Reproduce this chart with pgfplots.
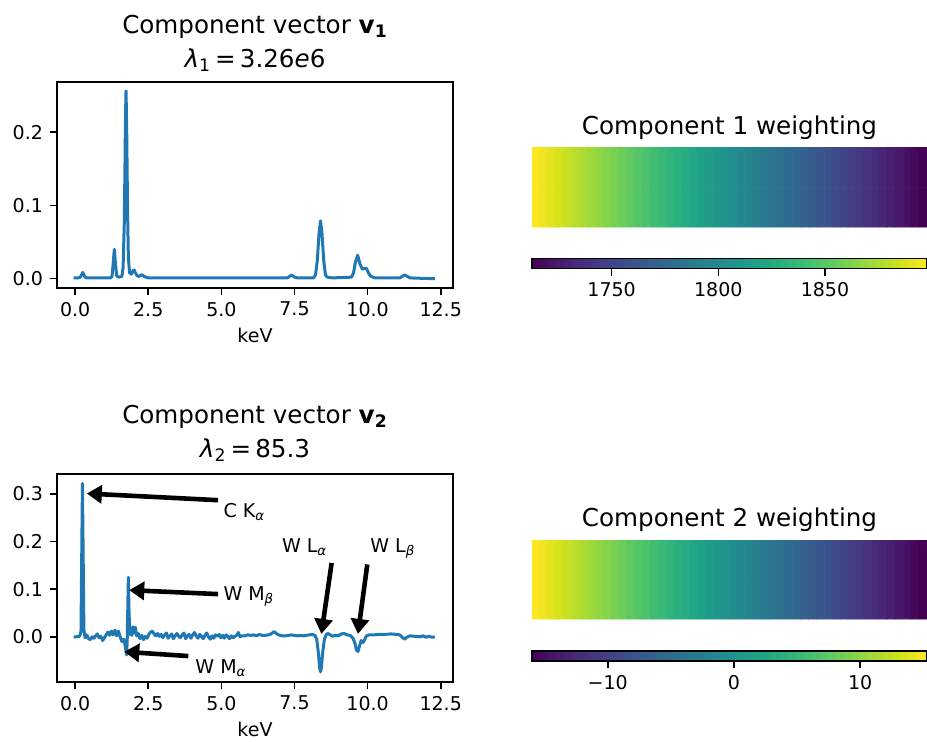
\documentclass[border=0pt]{standalone}
\usepackage{pgfplots}
\pgfplotsset{compat=1.18}
\usepackage{fontspec}
\setmainfont{DejaVu Sans}
\usetikzlibrary{arrows.meta}
\definecolor{mplblue}{HTML}{1F77B4}
\newcommand\tickfont{\fontsize{9.5bp}{11bp}\selectfont}
\newcommand\titlefont{\fontsize{12.3bp}{14bp}\selectfont}
\tikzset{arr/.style={-{Triangle[width=9bp,length=7.5bp]}, line width=2.3bp, black}}
\pgfplotsset{
  spec/.style={
    scale only axis, width=198bp,
    xmin=-0.62, xmax=12.92,
    xtick={0,2.5,5,7.5,10,12.5},
    xticklabels={0.0,2.5,5.0,7.5,10.0,12.5},
    tick align=outside, major tick length=3.5bp,
    tick style={black, line width=0.8bp},
    axis line style={black, line width=0.8bp},
    xtick pos=left, ytick pos=left,
    tick label style={font=\tickfont, black},
    xlabel={keV},
    xlabel style={font=\tickfont, at={(axis description cs:0.5,0)}, anchor=base, yshift=-27.3bp},
    clip mode=individual,
  },
  spline/.style={color=mplblue, line width=1.5bp, line join=round},
  imgax/.style={scale only axis, width=197.5bp, hide axis, xmin=-0.5, xmax=49.5, ymin=-0.5, ymax=1.5, colormap/viridis, enlargelimits=false},
  cbax/.style={scale only axis, width=197.5bp, height=5bp, ymin=0, ymax=1, ytick=\empty, colormap/viridis,
    tick align=outside, major tick length=3.5bp, xtick pos=left,
    tick style={black, line width=0.8bp}, axis line style={black, line width=0.8bp},
    tick label style={font=\tickfont, black}, axis on top, enlargelimits=false},
}
\begin{document}
\begin{tikzpicture}
\path[use as bounding box] (0,0) rectangle (463.5bp,-371bp);

% ---------- top-left spectrum ----------
\begin{axis}[spec, at={(28.5bp,-41bp)}, anchor=north west, height=103bp,
  ymin=-0.0128, ymax=0.2686, ytick={0,0.1,0.2}, yticklabels={0.0,0.1,0.2}]
\addplot[spline] coordinates {
(-0.05,0.001) (0.10,0.001) (0.18,0.002) (0.22,0.005) (0.26,0.0085) (0.30,0.005) (0.34,0.002) (0.40,0.001)
(0.80,0.001) (1.20,0.001) (1.26,0.003) (1.30,0.020) (1.34,0.040) (1.38,0.020) (1.42,0.004) (1.48,0.002)
(1.60,0.003) (1.64,0.015) (1.68,0.075) (1.70,0.140) (1.72,0.215) (1.74,0.2566) (1.76,0.215) (1.78,0.140)
(1.80,0.075) (1.82,0.030) (1.86,0.008) (1.92,0.006) (1.98,0.011) (2.02,0.0117) (2.06,0.008) (2.12,0.004)
(2.18,0.003) (2.26,0.005) (2.30,0.005) (2.36,0.003) (2.50,0.001) (4.00,0.001) (6.00,0.001) (7.25,0.001)
(7.30,0.002) (7.40,0.005) (7.50,0.002) (7.60,0.001) (8.15,0.001) (8.22,0.005) (8.28,0.025) (8.34,0.062)
(8.39,0.079) (8.44,0.062) (8.50,0.025) (8.56,0.005) (8.62,0.002) (8.80,0.001) (9.45,0.002) (9.52,0.008)
(9.58,0.022) (9.66,0.032) (9.74,0.020) (9.82,0.013) (9.90,0.014) (9.96,0.014) (10.04,0.007) (10.12,0.003)
(10.25,0.001) (11.10,0.001) (11.18,0.003) (11.27,0.005) (11.36,0.003) (11.45,0.001) (11.80,0.0005) (12.30,0.0)
};
\end{axis}

% ---------- bottom-left spectrum ----------
\begin{axis}[spec, at={(28.5bp,-237bp)}, anchor=north west, height=104bp,
  ymin=-0.095, ymax=0.342, ytick={0,0.1,0.2,0.3}, yticklabels={0.0,0.1,0.2,0.3}]
\addplot[spline] coordinates {
(-0.05,0.000) (0.05,0.000) (0.15,0.001) (0.20,0.010) (0.23,0.200) (0.25,0.322) (0.27,0.200) (0.30,0.015)
(0.34,-0.002) (0.40,0.004) (0.46,-0.004) (0.52,-0.006) (0.58,0.000) (0.64,-0.003) (0.70,0.002) (0.76,0.006)
(0.82,-0.002) (0.88,0.001) (0.94,-0.008) (1.00,-0.002) (1.06,0.004) (1.12,0.010) (1.18,0.003) (1.24,0.012)
(1.30,0.004) (1.36,0.014) (1.42,0.002) (1.48,0.012) (1.54,0.000) (1.60,-0.010) (1.66,-0.005) (1.70,-0.015)
(1.74,-0.030) (1.76,-0.038) (1.78,-0.010) (1.80,0.060) (1.82,0.125) (1.84,0.060) (1.87,0.005) (1.90,0.012)
(1.94,0.003) (1.98,0.021) (2.02,0.008) (2.06,0.020) (2.10,0.002) (2.16,0.007) (2.22,-0.004) (2.28,0.003)
(2.34,-0.006) (2.40,0.001) (2.46,-0.003) (2.52,0.005) (2.58,0.010) (2.64,0.012) (2.70,0.006) (2.76,0.002)
(2.82,0.007) (2.88,0.001) (2.94,0.005) (3.00,-0.002) (3.06,0.004) (3.12,0.008) (3.18,-0.003) (3.24,0.002)
(3.30,0.006) (3.36,-0.004) (3.42,0.002) (3.48,0.007) (3.54,0.001) (3.60,-0.002) (3.66,0.004) (3.72,0.008)
(3.78,-0.004) (3.84,0.002) (3.90,0.005) (3.96,-0.003) (4.02,0.004) (4.08,0.009) (4.14,0.002) (4.20,-0.003)
(4.26,0.005) (4.32,0.001) (4.38,-0.004) (4.44,0.003) (4.50,0.008) (4.56,0.000) (4.62,-0.005) (4.68,0.002)
(4.74,-0.003) (4.80,0.004) (4.86,0.001) (4.92,0.005) (4.98,-0.002) (5.04,0.003) (5.10,-0.003) (5.16,0.004)
(5.22,0.001) (5.28,-0.004) (5.34,0.002) (5.40,-0.002) (5.46,0.001) (5.52,0.003) (5.58,0.009) (5.64,0.000)
(5.70,0.002) (5.80,0.002) (5.90,0.004) (6.00,0.003) (6.10,0.004) (6.20,0.002) (6.30,0.005) (6.40,0.003)
(6.50,0.003) (6.60,0.004) (6.70,0.006) (6.80,0.011) (6.90,0.006) (7.00,0.003) (7.10,0.002) (7.20,0.002)
(7.30,0.003) (7.40,0.004) (7.50,0.003) (7.60,0.002) (7.70,0.003) (7.80,0.002) (7.90,0.003) (8.00,0.004)
(8.10,0.005) (8.20,0.003) (8.26,-0.005) (8.32,-0.035) (8.36,-0.065) (8.39,-0.0735) (8.42,-0.065) (8.46,-0.035)
(8.52,-0.006) (8.58,0.004) (8.64,0.007) (8.70,0.005) (8.80,0.001) (8.90,0.003) (9.00,0.002) (9.10,0.006)
(9.20,0.007) (9.30,0.004) (9.40,0.003) (9.50,-0.003) (9.56,-0.012) (9.62,-0.028) (9.67,-0.031) (9.72,-0.020)
(9.78,-0.008) (9.84,-0.012) (9.90,-0.006) (9.96,0.002) (10.04,0.004) (10.20,0.004) (10.40,0.005) (10.60,0.005)
(10.80,0.006) (11.00,0.005) (11.10,0.004) (11.20,-0.002) (11.27,-0.005) (11.34,-0.001) (11.45,0.002) (11.60,0.001)
(11.80,0.000) (11.90,0.002) (12.00,-0.001) (12.10,0.001) (12.20,-0.001) (12.30,0.000)
};
\draw[arr] (axis cs:4.886,0.287) -- (axis cs:0.40,0.301);
\node[anchor=base west, font=\tickfont, inner sep=0pt] at (axis cs:5.06,0.251) {C K\textsubscript{\itshape α}};
\draw[arr] (axis cs:4.886,0.0897) -- (axis cs:1.85,0.098);
\node[anchor=base west, font=\tickfont, inner sep=0pt] at (axis cs:5.06,0.077) {W M\textsubscript{\itshape β}};
\draw[arr] (axis cs:3.87,-0.0405) -- (axis cs:1.68,-0.0315);
\node[anchor=base west, font=\tickfont, inner sep=0pt] at (axis cs:4.10,-0.0763) {W M\textsubscript{\itshape α}};
\draw[arr] (axis cs:8.77,0.155) -- (axis cs:8.42,0.006);
\node[anchor=base west, font=\tickfont, inner sep=0pt] at (axis cs:7.06,0.178) {W L\textsubscript{\itshape α}};
\draw[arr] (axis cs:9.99,0.152) -- (axis cs:9.67,0.006);
\node[anchor=base west, font=\tickfont, inner sep=0pt] at (axis cs:10.08,0.178) {W L\textsubscript{\itshape β}};
\end{axis}

% ---------- image 1 ----------
\begin{axis}[imgax, at={(266bp,-73.75bp)}, anchor=north west, height=39.75bp,
  point meta min=1712.7, point meta max=1897.8]
\addplot[matrix plot*, mesh/cols=50, point meta=explicit] coordinates {
(0,0)[1897.8] (1,0)[1894.0] (2,0)[1890.2] (3,0)[1886.5] (4,0)[1882.7] (5,0)[1878.9] (6,0)[1875.1] (7,0)[1871.4] (8,0)[1867.6] (9,0)[1863.8]
(10,0)[1860.0] (11,0)[1856.3] (12,0)[1852.5] (13,0)[1848.7] (14,0)[1845.0] (15,0)[1841.2] (16,0)[1837.4] (17,0)[1833.6] (18,0)[1829.9] (19,0)[1826.1]
(20,0)[1822.3] (21,0)[1818.5] (22,0)[1814.8] (23,0)[1811.0] (24,0)[1807.2] (25,0)[1803.4] (26,0)[1799.7] (27,0)[1795.9] (28,0)[1792.1] (29,0)[1788.3]
(30,0)[1784.6] (31,0)[1780.8] (32,0)[1777.0] (33,0)[1773.2] (34,0)[1769.5] (35,0)[1765.7] (36,0)[1761.9] (37,0)[1758.1] (38,0)[1754.4] (39,0)[1750.6]
(40,0)[1746.8] (41,0)[1743.0] (42,0)[1739.3] (43,0)[1735.5] (44,0)[1731.7] (45,0)[1727.9] (46,0)[1724.2] (47,0)[1720.4] (48,0)[1716.6] (49,0)[1712.8]
(0,1)[1897.8] (1,1)[1894.0] (2,1)[1890.2] (3,1)[1886.5] (4,1)[1882.7] (5,1)[1878.9] (6,1)[1875.1] (7,1)[1871.4] (8,1)[1867.6] (9,1)[1863.8]
(10,1)[1860.0] (11,1)[1856.3] (12,1)[1852.5] (13,1)[1848.7] (14,1)[1845.0] (15,1)[1841.2] (16,1)[1837.4] (17,1)[1833.6] (18,1)[1829.9] (19,1)[1826.1]
(20,1)[1822.3] (21,1)[1818.5] (22,1)[1814.8] (23,1)[1811.0] (24,1)[1807.2] (25,1)[1803.4] (26,1)[1799.7] (27,1)[1795.9] (28,1)[1792.1] (29,1)[1788.3]
(30,1)[1784.6] (31,1)[1780.8] (32,1)[1777.0] (33,1)[1773.2] (34,1)[1769.5] (35,1)[1765.7] (36,1)[1761.9] (37,1)[1758.1] (38,1)[1754.4] (39,1)[1750.6]
(40,1)[1746.8] (41,1)[1743.0] (42,1)[1739.3] (43,1)[1735.5] (44,1)[1731.7] (45,1)[1727.9] (46,1)[1724.2] (47,1)[1720.4] (48,1)[1716.6] (49,1)[1712.8]
};
\end{axis}
\begin{axis}[cbax, at={(266bp,-129.25bp)}, anchor=north west,
  xmin=1712.7, xmax=1897.8, xtick={1750,1800,1850}, xticklabels={1750,1800,1850}]
\addplot[surf, shader=interp, mesh/rows=2, point meta=x] coordinates {(1712.7,0) (1897.8,0) (1712.7,1) (1897.8,1)};
\end{axis}

% ---------- image 2 ----------
\begin{axis}[imgax, at={(266bp,-270bp)}, anchor=north west, height=39.5bp,
  point meta min=-16.0, point meta max=15.3]
\addplot[matrix plot*, mesh/cols=50, point meta=explicit] coordinates {
(0,0)[15.3] (1,0)[14.7] (2,0)[14.0] (3,0)[13.4] (4,0)[12.7] (5,0)[12.1] (6,0)[11.5] (7,0)[10.8] (8,0)[10.2] (9,0)[9.6]
(10,0)[8.9] (11,0)[8.3] (12,0)[7.6] (13,0)[7.0] (14,0)[6.4] (15,0)[5.7] (16,0)[5.1] (17,0)[4.4] (18,0)[3.8] (19,0)[3.2]
(20,0)[2.5] (21,0)[1.9] (22,0)[1.2] (23,0)[0.6] (24,0)[0.0] (25,0)[-0.7] (26,0)[-1.3] (27,0)[-1.9] (28,0)[-2.6] (29,0)[-3.2]
(30,0)[-3.9] (31,0)[-4.5] (32,0)[-5.1] (33,0)[-5.8] (34,0)[-6.4] (35,0)[-7.1] (36,0)[-7.7] (37,0)[-8.3] (38,0)[-9.0] (39,0)[-9.6]
(40,0)[-10.3] (41,0)[-10.9] (42,0)[-11.5] (43,0)[-12.2] (44,0)[-12.8] (45,0)[-13.4] (46,0)[-14.1] (47,0)[-14.7] (48,0)[-15.4] (49,0)[-16.0]
(0,1)[15.3] (1,1)[14.7] (2,1)[14.0] (3,1)[13.4] (4,1)[12.7] (5,1)[12.1] (6,1)[11.5] (7,1)[10.8] (8,1)[10.2] (9,1)[9.6]
(10,1)[8.9] (11,1)[8.3] (12,1)[7.6] (13,1)[7.0] (14,1)[6.4] (15,1)[5.7] (16,1)[5.1] (17,1)[4.4] (18,1)[3.8] (19,1)[3.2]
(20,1)[2.5] (21,1)[1.9] (22,1)[1.2] (23,1)[0.6] (24,1)[0.0] (25,1)[-0.7] (26,1)[-1.3] (27,1)[-1.9] (28,1)[-2.6] (29,1)[-3.2]
(30,1)[-3.9] (31,1)[-4.5] (32,1)[-5.1] (33,1)[-5.8] (34,1)[-6.4] (35,1)[-7.1] (36,1)[-7.7] (37,1)[-8.3] (38,1)[-9.0] (39,1)[-9.6]
(40,1)[-10.3] (41,1)[-10.9] (42,1)[-11.5] (43,1)[-12.2] (44,1)[-12.8] (45,1)[-13.4] (46,1)[-14.1] (47,1)[-14.7] (48,1)[-15.4] (49,1)[-16.0]
};
\end{axis}
\begin{axis}[cbax, at={(266bp,-325.5bp)}, anchor=north west,
  xmin=-16.0, xmax=15.3, xtick={-10,0,10}, xticklabels={−10,0,10}]
\addplot[surf, shader=interp, mesh/rows=2, point meta=x] coordinates {(-16.0,0) (15.3,0) (-16.0,1) (15.3,1)};
\end{axis}

% ---------- titles ----------
\node[anchor=base, font=\titlefont] at (127.5bp,-16.5bp) {Component vector \textbf{v}\textsubscript{\textbf{1}}};
\node[anchor=base, font=\titlefont] at (127.5bp,-33.5bp) {{\itshape λ}\textsubscript{1}\,=\,3.26{\itshape e}6};
\node[anchor=base, font=\titlefont] at (127.5bp,-211.5bp) {Component vector \textbf{v}\textsubscript{\textbf{2}}};
\node[anchor=base, font=\titlefont] at (127.5bp,-228.5bp) {{\itshape λ}\textsubscript{2}\,=\,85.3};
\node[anchor=base, font=\titlefont] at (364.75bp,-67.15bp) {Component 1 weighting};
\node[anchor=base, font=\titlefont] at (364.75bp,-263.35bp) {Component 2 weighting};
\end{tikzpicture}
\end{document}
